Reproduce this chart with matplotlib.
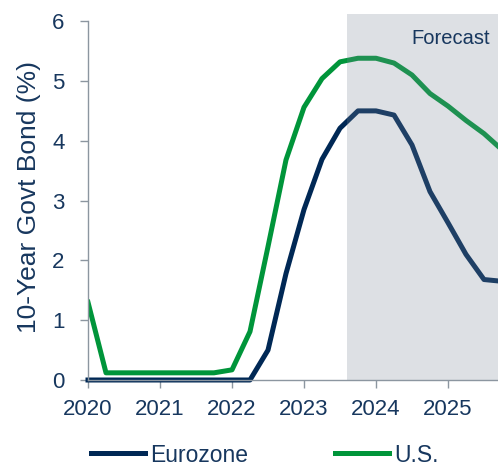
import matplotlib.pyplot as plt

plt.rcParams["font.family"] = ["Liberation Sans", "DejaVu Sans"]

# Quarterly 10-year government bond yields (%)
quarters = [2020.0 + 0.25 * i for i in range(24)]
us_yield = [1.30, 0.12, 0.12, 0.12, 0.12, 0.12, 0.12, 0.12,
            0.17, 0.81, 2.23, 3.68, 4.56, 5.04, 5.32, 5.38,
            5.38, 5.30, 5.10, 4.79, 4.58, 4.34, 4.12, 3.85]
ez_yield = [0.00, 0.00, 0.00, 0.00, 0.00, 0.00, 0.00, 0.00,
            0.00, 0.00, 0.50, 1.78, 2.85, 3.69, 4.21, 4.50,
            4.50, 4.43, 3.93, 3.15, 2.63, 2.10, 1.68, 1.65]
year_ticks = [2020, 2021, 2022, 2023, 2024, 2025]
forecast_start = 2023.6

NAVY = "#002855"
GREEN = "#00953A"
TEXT = "#17375E"
AXIS = "#8C96A0"

fig = plt.figure(figsize=(4.98, 4.68), dpi=100)
ax = fig.add_axes([88 / 498, 88 / 468, 410 / 498, 366 / 468])

x_end = 2020 + 410 / 72
ax.plot(quarters, ez_yield, color=NAVY, lw=3.6, label="Eurozone", zorder=2, clip_on=False)
ax.plot(quarters, us_yield, color=GREEN, lw=3.6, label="U.S.", zorder=2)

# forecast window shaded on top of the lines
ax.axvspan(forecast_start, x_end, color="#7A8796", alpha=0.25, lw=0, zorder=3)
ax.text(0.98, 0.934, "Forecast", transform=ax.transAxes, ha="right", va="center",
        fontsize=14.5, color=TEXT, zorder=4)

ax.set_xlim(2020, x_end)
ax.set_ylim(0, 6.12)
ax.set_xticks(year_ticks)
ax.set_xticklabels([str(y) for y in year_ticks])
ax.set_yticks(range(0, 7))

for side in ("top", "right"):
    ax.spines[side].set_visible(False)
for side in ("left", "bottom"):
    ax.spines[side].set_color(AXIS)
    ax.spines[side].set_linewidth(1.0)
ax.spines["left"].set_bounds(0, 6)

ax.tick_params(colors=AXIS, labelcolor=TEXT, labelsize=16, length=6, width=1.0)
ax.tick_params(axis="x", pad=8)
ax.tick_params(axis="y", pad=11)
ax.set_ylabel("10-Year Govt Bond (%)", color=TEXT, fontsize=19, labelpad=8)

fig.legend(loc="center", bbox_to_anchor=(265 / 498, 13 / 468), ncol=2, frameon=False,
           fontsize=16.5, handlelength=2.36, handletextpad=0.22, columnspacing=3.8,
           labelcolor=TEXT)

fig.savefig("out.png", dpi=100)
